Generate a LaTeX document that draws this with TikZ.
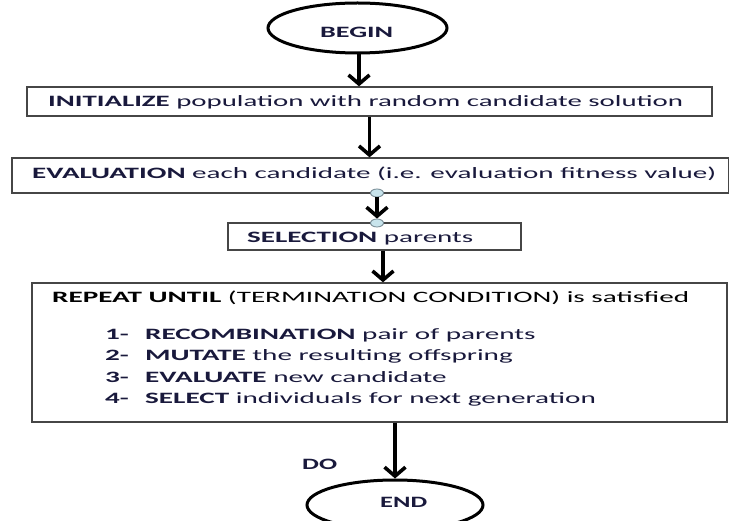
\documentclass[tikz,border=0pt]{standalone}
\usepackage{fontspec}
\setmainfont{Carlito}
\usepackage{graphicx}
\usetikzlibrary{arrows.meta,shapes.geometric}
\definecolor{ink}{RGB}{25,25,60}
\definecolor{boxline}{RGB}{70,70,70}
\definecolor{handlefill}{RGB}{200,228,236}
\definecolor{handleline}{RGB}{110,130,140}
% stretch a line of text to a given width, keeping its height
\newcommand\fitw[2]{\resizebox{#1}{\height}{#2}}
\newsavebox\titlebox
\begin{document}
\sbox\titlebox{\fontsize{15.8}{19}\selectfont\textbf{REPEAT UNTIL} (TERMINATION CONDITION) is satisfied}%
\pgfmathsetmacro\itemfac{637/\the\wd\titlebox}%
\begin{tikzpicture}[x=1pt,y=-1pt,
  stepbox/.style={draw=boxline,line width=1.3pt,rectangle,inner sep=0pt},
  terminal/.style={draw=black,line width=3pt,ellipse,inner sep=0pt},
  txt/.style={text=ink,inner sep=0pt,anchor=base west,font=\fontsize{15.8}{19}\selectfont},
  handle/.style={draw=handleline,fill=handlefill,line width=0.8pt,ellipse,inner sep=0pt,minimum width=13pt,minimum height=8pt},
  arr/.style={draw=black,line width=3.6pt,-{Straight Barb[length=9pt,width=21pt,line width=3.6pt]}}]
\useasboundingbox (0,0) rectangle (729,521);
\fill[white] (0,0) rectangle (729,521);
\clip (0,0) rectangle (729,521);

% terminals
\node[terminal,minimum width=179pt,minimum height=50pt] (begin) at (357.5,28) {};
\node[terminal,minimum width=176pt,minimum height=50pt] (end) at (395,505) {};

% process boxes
\node[stepbox,minimum width=685pt,minimum height=29pt] (init) at (369.5,101.5) {};
\node[stepbox,minimum width=717pt,minimum height=35pt] (eval) at (370.5,175.5) {};
\node[stepbox,minimum width=293pt,minimum height=27pt] (sel) at (374.5,236.5) {};
\node[stepbox,minimum width=695pt,minimum height=139pt] (rep) at (379.5,352.5) {};

% connection handles between evaluation and selection
\node[handle] (h1) at (377,193) {};
\node[handle] (h2) at (377,223) {};

% texts
\node[txt] (beginT) at (320,38) {\fitw{73pt}{\textbf{BEGIN}}};
\node[txt] (initT) at (48,106.5) {\fitw{635pt}{\textbf{INITIALIZE} population with random candidate solution}};
\node[txt] (evalT) at (32,178.3) {\fitw{684pt}{\textbf{EVALUATION} each candidate (i.e. evaluation fitness value)}};
\node[txt] (selT) at (247,242.5) {\fitw{226pt}{\textbf{SELECTION} parents}};
\node[txt] (repT) at (52,302.7) {\scalebox{\itemfac}[1]{\usebox\titlebox}};
\node[txt] (n1) at (105,339.5) {\scalebox{\itemfac}[1]{\textbf{1-}}};
\node[txt] (n2) at (105,361) {\scalebox{\itemfac}[1]{\textbf{2-}}};
\node[txt] (n3) at (105,382.5) {\scalebox{\itemfac}[1]{\textbf{3-}}};
\node[txt] (n4) at (105,404) {\scalebox{\itemfac}[1]{\textbf{4-}}};
\node[txt] (i1) at (145,339.5) {\scalebox{\itemfac}[1]{\textbf{RECOMBINATION} pair of parents}};
\node[txt] (i2) at (145,361) {\scalebox{\itemfac}[1]{\textbf{MUTATE} the resulting offspring}};
\node[txt] (i3) at (145,382.5) {\scalebox{\itemfac}[1]{\textbf{EVALUATE} new candidate}};
\node[txt] (i4) at (145,404) {\scalebox{\itemfac}[1]{\textbf{SELECT} individuals for next generation}};
\node[txt] (doT) at (302,470) {\fitw{35pt}{\textbf{DO}}};
\node[txt] (endT) at (380,508) {\fitw{47pt}{\textbf{END}}};

% connectors
\draw[arr] ([xshift=1.5pt]begin.south) -- ([xshift=1.5pt]begin.south |- init.north);
\draw[arr] (init.south) -- (init.south |- eval.north);
\draw[arr] (h1) -- (h2);
\draw[arr] ([xshift=8.5pt]sel.south) -- ([xshift=8.5pt]sel.south |- rep.north);
\draw[arr] (end.north |- rep.south) -- (end.north);
\end{tikzpicture}
\end{document}
